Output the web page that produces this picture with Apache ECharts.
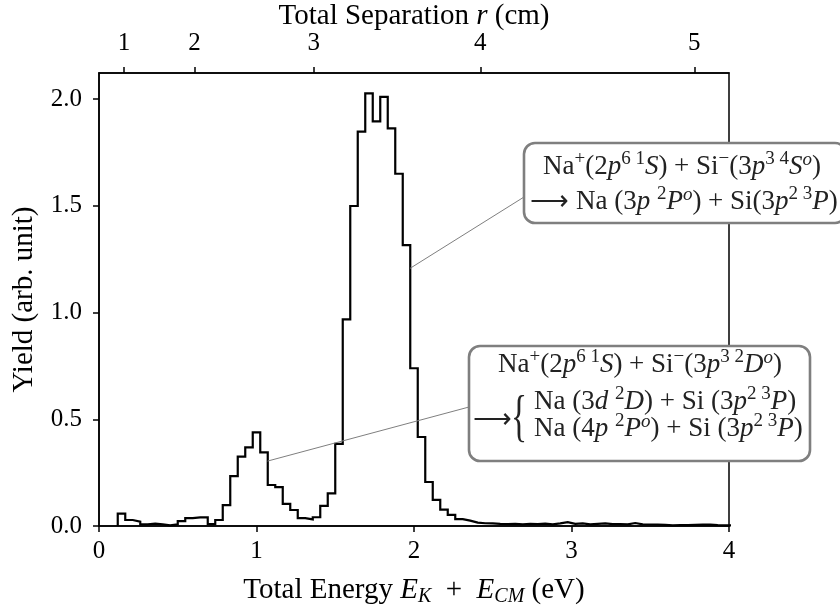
<!DOCTYPE html>
<html><head><meta charset="utf-8">
<script src="https://cdn.jsdelivr.net/npm/echarts@6/dist/echarts.min.js"></script>
<style>html,body{margin:0;padding:0;background:#fff}#c{width:840px;height:612px}</style>
</head><body><div id="c"></div>
<script>
// ---- data ----
const binWidth = 1 / 21;          // eV per histogram bin
const firstBinCenterIndex = 3;    // first bin centred at 3/21 eV
const yields = [
  0.058, 0.028, 0.020, 0.008, 0.011, 0.008, 0.003, 0.008, 0.023, 0.037,
  0.040, 0.040, 0.009, 0.028, 0.098, 0.234, 0.325, 0.368, 0.439, 0.345,
  0.192, 0.182, 0.104, 0.075, 0.037, 0.031, 0.041, 0.094, 0.153, 0.385,
  0.968, 1.499, 1.847, 2.027, 1.895, 2.010, 1.863, 1.650, 1.316, 0.739,
  0.417, 0.206, 0.122, 0.077, 0.052, 0.032, 0.025, 0.016, 0.013, 0.012,
  0.010, 0.009, 0.010, 0.008, 0.010, 0.009, 0.011, 0.008, 0.012, 0.018,
  0.010, 0.012, 0.008, 0.010, 0.012, 0.009, 0.009, 0.008, 0.014, 0.008,
  0.007, 0.007, 0.005, 0.003, 0.004, 0.004, 0.005, 0.006, 0.006, 0.004,
  0.003, 0.003
];
const yTickValues = [0, 0.5, 1.0, 1.5, 2.0];
const topTickEnergies = [0.158, 0.607, 1.363, 2.421, 3.780];
const topTickLabels = ['1', '2', '3', '4', '5'];
const anchor1 = [1.975, 1.207];
const anchor2 = [1.070, 0.304];

const box1Lines = [
  'Na{sup|+}(2{i|p}{sup|6 1}{i|S}) + Si{sup|\u2212}(3{i|p}{sup|3 4}{i|S}{supi|o})',
  '\u27F6 Na (3{i|p} {sup|2}{i|P}{supi|o}) + Si(3{i|p}{sup|2 3}{i|P})'
];
const box2Head = 'Na{sup|+}(2{i|p}{sup|6 1}{i|S}) + Si{sup|\u2212}(3{i|p}{sup|3 2}{i|D}{supi|o})';
const box2Cases = [
  'Na (3{i|d} {sup|2}{i|D}) + Si (3{i|p}{sup|2 3}{i|P})',
  'Na (4{i|p} {sup|2}{i|P}{supi|o}) + Si (3{i|p}{sup|2 3}{i|P})'
];

// ---- build histogram outline ----
const outline = [];
yields.forEach((v, j) => {
  const c = (firstBinCenterIndex + j) * binWidth;
  const l = c - binWidth / 2, r = c + binWidth / 2;
  if (j === 0) outline.push([l, 0]);
  outline.push([l, v], [r, v]);
  if (j === yields.length - 1) outline.push([r, 0]);
});

const F = 'Liberation Serif';
const TK = 25;   // tick label size
const NM = 29;   // axis name size
const AN = 27;   // annotation size
const TC = '#222';
const richAx = {
  i: {fontStyle: 'italic', fontFamily: F, fontSize: NM, lineHeight: 34},
  subi: {fontFamily: F, fontSize: 20, lineHeight: 22, verticalAlign: 'bottom', fontStyle: 'italic'}
};
const richAn = {
  i: {fontStyle: 'italic', fontFamily: F, fontSize: AN, lineHeight: 34, fill: TC},
  sup: {fontFamily: F, fontSize: 19, lineHeight: 20, verticalAlign: 'top', fill: TC},
  supi: {fontFamily: F, fontSize: 19, lineHeight: 20, verticalAlign: 'top', fontStyle: 'italic', fill: TC}
};

const chart = echarts.init(document.getElementById('c'), null, {renderer: 'canvas'});
const axisLineStyle = {color: '#000', width: 1.5};
chart.setOption({
  animation: false,
  backgroundColor: '#fff',
  grid: {left: 99, right: 111, top: 73, bottom: 86, show: true, borderColor: '#000', borderWidth: 1.5,
         backgroundColor: 'transparent', containLabel: false, outerBoundsMode: 'none'},
  xAxis: [{
    type: 'value', min: 0, max: 4, interval: 1, position: 'bottom',
    axisLine: {show: true, lineStyle: axisLineStyle},
    axisTick: {show: true, inside: false, length: 6, lineStyle: axisLineStyle},
    axisLabel: {fontFamily: F, fontSize: TK, color: '#000', margin: 13},
    splitLine: {show: false},
    name: 'Total Energy {i|E}{subi|K}  +  {i|E}{subi|CM} (eV)',
    nameLocation: 'middle', nameGap: 47, nameMoveOverlap: false,
    nameTextStyle: {fontFamily: F, fontSize: NM, color: '#000', lineHeight: 34, rich: richAx}
  }, {
    type: 'value', min: 0, max: 4, position: 'top',
    axisLine: {show: true, lineStyle: axisLineStyle},
    axisTick: {show: true, inside: false, length: 6, lineStyle: axisLineStyle, customValues: topTickEnergies},
    axisLabel: {fontFamily: F, fontSize: TK, color: '#000', margin: 17, customValues: topTickEnergies,
      formatter: v => { const k = topTickEnergies.findIndex(t => Math.abs(t - v) < 1e-6); return k >= 0 ? topTickLabels[k] : ''; }},
    splitLine: {show: false},
    name: 'Total Separation {i|r} (cm)',
    nameLocation: 'middle', nameGap: 40, nameMoveOverlap: false,
    nameTextStyle: {fontFamily: F, fontSize: NM, color: '#000', lineHeight: 34, rich: richAx}
  }],
  yAxis: {
    type: 'value', min: 0, max: 2.122,
    axisLine: {show: true, lineStyle: axisLineStyle},
    axisTick: {show: true, inside: false, length: 6, lineStyle: axisLineStyle, customValues: yTickValues},
    axisLabel: {fontFamily: F, fontSize: TK, color: '#000', margin: 17, customValues: yTickValues,
      formatter: v => v.toFixed(1)},
    splitLine: {show: false},
    name: 'Yield (arb. unit)', nameLocation: 'middle', nameGap: 60, nameMoveOverlap: false,
    nameTextStyle: {fontFamily: F, fontSize: NM, color: '#000'}
  },
  series: [{
    type: 'line', xAxisIndex: 0, yAxisIndex: 0, data: outline, symbol: 'none', clip: true,
    lineStyle: {color: '#000', width: 2.2, join: 'miter'}, z: 3
  }]
});

const p1 = chart.convertToPixel({xAxisIndex: 0, yAxisIndex: 0}, anchor1);
const p2 = chart.convertToPixel({xAxisIndex: 0, yAxisIndex: 0}, anchor2);
const B1 = {x: 524, y: 143, w: 322, h: 80};
const B2 = {x: 469, y: 346, w: 341, h: 115};
const boxStyle = {fill: '#fff', stroke: '#7f7f7f', lineWidth: 2.6};
const txt = (t, x, y, align) => ({
  type: 'text', x: x, y: y, z: 20,
  style: {text: t, fontFamily: F, fontSize: AN, fill: TC, align: align, verticalAlign: 'middle',
          lineHeight: 34, rich: richAn}
});
chart.setOption({
  graphic: [
    {type: 'line', z: 10, shape: {x1: p1[0], y1: p1[1], x2: B1.x, y2: 197}, style: {stroke: '#7f7f7f', lineWidth: 1}},
    {type: 'line', z: 10, shape: {x1: p2[0], y1: p2[1], x2: B2.x, y2: 407}, style: {stroke: '#7f7f7f', lineWidth: 1}},
    {type: 'rect', z: 15, shape: {x: B1.x, y: B1.y, width: B1.w, height: B1.h, r: 11}, style: boxStyle},
    {type: 'rect', z: 15, shape: {x: B2.x, y: B2.y, width: B2.w, height: B2.h, r: 11}, style: boxStyle},
    txt(box1Lines[0], 682, 167, 'center'),
    txt(box1Lines[1], 684, 202, 'center'),
    txt(box2Head, 640, 365, 'center'),
    txt(box2Cases[0], 534, 402, 'left'),
    txt(box2Cases[1], 534, 429, 'left'),
    {type: 'text', x: 473, y: 420, z: 20, style: {text: '\u27F6', fontFamily: F, fontSize: AN, fill: TC, align: 'left', verticalAlign: 'middle'}},
    {type: 'text', x: 519, y: 420, z: 20, scaleX: 0.6, style: {text: '{', fontFamily: F, fontSize: 56, fill: TC, align: 'center', verticalAlign: 'middle'}}
  ]
});
</script></body></html>
